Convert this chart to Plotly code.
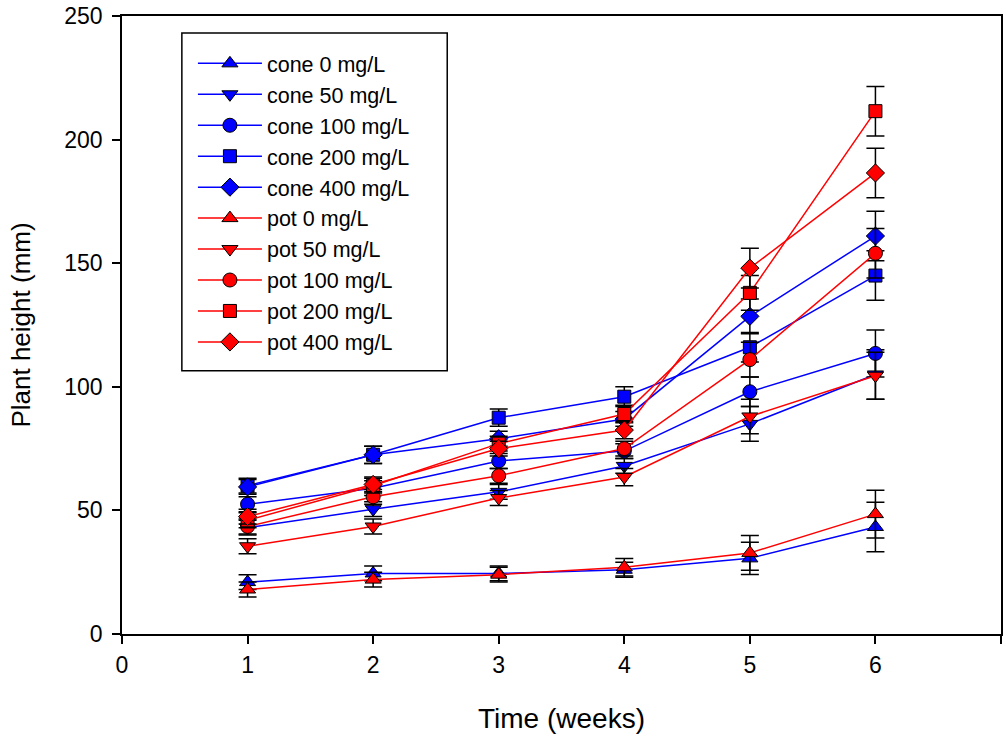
import plotly.graph_objects as go

weeks = [1, 2, 3, 4, 5, 6]

cone_0 = [21.0, 24.5, 24.5, 26.0, 30.6, 43.3]
cone_0_err = [3.0, 3.0, 3.0, 3.0, 6.5, 10.0]
cone_50 = [43.0, 50.5, 57.5, 68.0, 85.0, 105.0]
cone_50_err = [3.0, 3.0, 3.0, 3.0, 7.0, 10.0]
cone_100 = [52.5, 59.0, 70.0, 74.0, 98.0, 113.5]
cone_100_err = [3.0, 3.0, 3.0, 3.0, 6.0, 9.5]
cone_200 = [60.0, 72.5, 87.5, 96.0, 116.0, 145.0]
cone_200_err = [3.0, 3.5, 3.5, 4.0, 6.0, 10.0]
cone_400 = [59.5, 72.5, 79.0, 87.0, 128.5, 161.0]
cone_400_err = [3.0, 3.5, 3.0, 3.0, 7.0, 10.0]

pot_0 = [18.0, 22.0, 24.0, 27.0, 32.8, 48.5]
pot_0_err = [3.0, 3.0, 3.0, 3.5, 7.0, 9.7]
pot_50 = [35.5, 43.5, 55.0, 63.5, 88.0, 104.5]
pot_50_err = [3.0, 3.0, 3.0, 3.5, 7.0, 9.5]
pot_100 = [43.5, 55.5, 64.0, 75.0, 111.0, 154.0]
pot_100_err = [3.0, 3.0, 3.0, 3.0, 7.0, 10.0]
pot_200 = [46.0, 60.0, 77.0, 89.0, 138.0, 211.5]
pot_200_err = [3.0, 3.0, 3.0, 3.5, 7.0, 10.0]
pot_400 = [47.5, 60.5, 75.0, 82.5, 148.0, 186.5]
pot_400_err = [3.0, 3.0, 3.0, 3.5, 8.0, 10.0]

series = [
    ("cone 0 mg/L", cone_0, cone_0_err, "#0000ff", "triangle-up"),
    ("cone 50 mg/L", cone_50, cone_50_err, "#0000ff", "triangle-down"),
    ("cone 100 mg/L", cone_100, cone_100_err, "#0000ff", "circle"),
    ("cone 200 mg/L", cone_200, cone_200_err, "#0000ff", "square"),
    ("cone 400 mg/L", cone_400, cone_400_err, "#0000ff", "diamond"),
    ("pot 0 mg/L", pot_0, pot_0_err, "#ff0000", "triangle-up"),
    ("pot 50 mg/L", pot_50, pot_50_err, "#ff0000", "triangle-down"),
    ("pot 100 mg/L", pot_100, pot_100_err, "#ff0000", "circle"),
    ("pot 200 mg/L", pot_200, pot_200_err, "#ff0000", "square"),
    ("pot 400 mg/L", pot_400, pot_400_err, "#ff0000", "diamond"),
]

marker_sizes = {"triangle-up": 14, "triangle-down": 14, "circle": 14,
                "square": 13, "diamond": 14}

fig = go.Figure()
for name, vals, errs, color, symbol in series:
    fig.add_trace(go.Scatter(
        x=weeks, y=vals, name=name, mode="lines+markers",
        legendgroup=name,
        line=dict(color=color, width=1.5),
        marker=dict(symbol=symbol, size=marker_sizes[symbol], color=color,
                    line=dict(color="black", width=1)),
        error_y=dict(type="data", array=errs, visible=True,
                     color="black", thickness=1.5, width=9),
    ))

# framed, white-filled panel behind the legend entries
fig.add_shape(type="rect", xref="paper", yref="paper",
              x0=0.0681, x1=0.3700, y0=0.4258, y1=0.9726,
              line=dict(color="black", width=1.5), fillcolor="white",
              layer="above")

font = "Liberation Sans, Arial, sans-serif"
fig.update_layout(
    width=1006, height=740,
    margin=dict(l=122, r=3, t=14, b=106),
    paper_bgcolor="white", plot_bgcolor="white",
    font=dict(family=font, color="black", size=22),
    showlegend=True,
    legend=dict(
        x=0.0807, y=0.9565, xanchor="left", yanchor="top",
        bgcolor="rgba(0,0,0,0)", borderwidth=0,
        font=dict(size=21.5, family=font), tracegroupgap=0,
        itemwidth=64,
    ),
    xaxis=dict(
        range=[0, 7], tickvals=[0, 1, 2, 3, 4, 5, 6, 7],
        showgrid=False, zeroline=False,
        showline=True, linecolor="black", linewidth=1.5, mirror=True,
        ticks="outside", ticklen=8, tickwidth=1.5, tickcolor="black",
        tickfont=dict(size=23), ticklabelstandoff=2,
        title=dict(text="Time (weeks)", font=dict(size=28), standoff=31),
    ),
    yaxis=dict(
        range=[0, 250], tickvals=[0, 50, 100, 150, 200, 250],
        showgrid=False, zeroline=False,
        showline=True, linecolor="black", linewidth=1.5, mirror=True,
        ticks="outside", ticklen=8, tickwidth=1.5, tickcolor="black",
        tickfont=dict(size=23), ticklabelstandoff=5,
        title=dict(text="Plant height (mm)", font=dict(size=26), standoff=26),
    ),
)

fig.write_html("out.html")
